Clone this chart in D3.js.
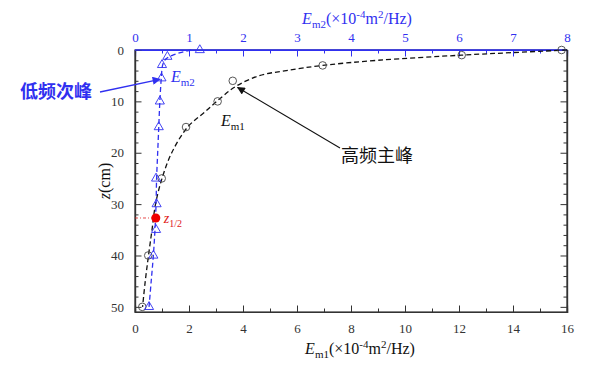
<!DOCTYPE html>
<html>
<head>
<meta charset="utf-8">
<script src="https://cdn.jsdelivr.net/npm/d3@7"></script>
<style>
  body { margin: 0; background: #fff; }
  svg text { font-family: "Liberation Serif", "DejaVu Serif", serif; }
</style>
</head>
<body>
<div id="chart"></div>
<script>
// measured points, Em1 (bottom axis) and Em2 (top axis)
const zE1 = [0, 1, 3, 6, 10, 15, 25, 40, 50];
const valE1 = [15.8, 12.1, 6.95, 3.62, 3.06, 1.89, 0.99, 0.49, 0.27];
const zE2 = [0, 1.3, 2.9, 5.5, 10, 15, 25, 30, 35, 40, 50];
const valE2 = [1.2, 0.6, 0.5, 0.49, 0.46, 0.44, 0.39, 0.40, 0.39, 0.34, 0.26];

// fitted dashed curves
const fitZ1 = [0, 0.5, 1, 2, 3, 4, 5, 7, 9, 12, 15, 20, 25, 30, 35, 40, 45, 50];
const fitE1 = [16, 14, 12.1, 9.0, 6.95, 5.6, 4.6, 3.76, 3.25, 2.6, 1.95, 1.36, 1.0, 0.76, 0.63, 0.5, 0.38, 0.28];
const fitZ2 = [0, 0.5, 1, 1.5, 2, 3, 5, 10, 15, 20, 25, 30, 35, 40, 45, 50];
const fitE2 = [1.04, 0.84, 0.7, 0.6, 0.55, 0.51, 0.49, 0.46, 0.44, 0.42, 0.40, 0.39, 0.37, 0.34, 0.30, 0.26];

// half-depth point
const zHalf = 32.7, eHalf = 0.77;

const xTicks1 = [0, 2, 4, 6, 8, 10, 12, 14, 16];
const xTicks2 = [0, 1, 2, 3, 4, 5, 6, 7, 8];
const zTicks = [0, 10, 20, 30, 40, 50];

const blue = "#3030f0";
const dark = "#333";
const serif = "Liberation Serif, DejaVu Serif, serif";

const W = 600, H = 365;
const pL = 135, pR = 567, pT = 50, pB = 312;

const svg = d3.select("#chart").append("svg")
  .attr("width", W).attr("height", H);

const x1 = d3.scaleLinear().domain([0, 16]).range([pL, pR]);
const x2 = d3.scaleLinear().domain([0, 8]).range([pL, pR]);
const y = d3.scaleLinear().domain([0, 51]).range([pT, pB]);

// arrow markers
const defs = svg.append("defs");
[["arrBlack", "#111"], ["arrBlue", blue]].forEach(([id, c]) => {
  defs.append("marker").attr("id", id)
    .attr("viewBox", "0 0 10 10").attr("refX", 9).attr("refY", 5)
    .attr("markerWidth", 10).attr("markerHeight", 8)
    .attr("markerUnits", "userSpaceOnUse")
    .attr("orient", "auto")
    .append("path").attr("d", "M0,0 L10,5 L0,10 z").attr("fill", c);
});

// frame
svg.append("rect").attr("x", pL).attr("y", pT)
  .attr("width", pR - pL).attr("height", pB - pT)
  .attr("fill", "none").attr("stroke", dark).attr("stroke-width", 1.2);

// axes
function styleAxis(g, color) {
  g.attr("font-family", serif).attr("font-size", 13);
  g.select(".domain").attr("stroke", color).attr("stroke-width", 1.2);
  g.selectAll(".tick line").attr("stroke", color);
  g.selectAll(".tick text").attr("fill", color);
}

const minor1 = d3.range(0, 16.01, 1).filter(v => v % 2 !== 0);
svg.append("g").attr("transform", `translate(0,${pB})`)
  .call(d3.axisBottom(x1).tickValues(minor1).tickSize(-3.5).tickFormat(""))
  .call(g => styleAxis(g, dark));
svg.append("g").attr("transform", `translate(0,${pB})`)
  .call(d3.axisBottom(x1).tickValues(xTicks1).tickSize(-6.5).tickPadding(12).tickFormat(d3.format("d")))
  .call(g => styleAxis(g, dark));

const minor2 = d3.range(0.5, 8, 1);
svg.append("g").attr("transform", `translate(0,${pT})`)
  .call(d3.axisTop(x2).tickValues(minor2).tickSize(-3.5).tickFormat(""))
  .call(g => styleAxis(g, blue));
svg.append("g").attr("transform", `translate(0,${pT})`)
  .call(d3.axisTop(x2).tickValues(xTicks2).tickSize(-6.5).tickPadding(8).tickFormat(d3.format("d")))
  .call(g => styleAxis(g, blue));

const minorZ = d3.range(0, 51, 2).filter(v => v % 10 !== 0);
svg.append("g").attr("transform", `translate(${pL},0)`)
  .call(d3.axisLeft(y).tickValues(minorZ).tickSize(-3.5).tickFormat(""))
  .call(g => styleAxis(g, dark));
svg.append("g").attr("transform", `translate(${pL},0)`)
  .call(d3.axisLeft(y).tickValues(zTicks).tickSize(-6.5).tickPadding(11))
  .call(g => styleAxis(g, dark));
svg.append("g").attr("transform", `translate(${pR},0)`)
  .call(d3.axisRight(y).tickValues(minorZ).tickSize(-3.5).tickFormat(""))
  .call(g => styleAxis(g, dark));
svg.append("g").attr("transform", `translate(${pR},0)`)
  .call(d3.axisRight(y).tickValues(zTicks).tickSize(-6.5).tickFormat(""))
  .call(g => styleAxis(g, dark));
// top line drawn blue over the frame
svg.append("line").attr("x1", pL).attr("x2", pR).attr("y1", pT).attr("y2", pT)
  .attr("stroke", blue).attr("stroke-width", 1.4);

// fitted curves
const fit1 = fitZ1.map((z, i) => [x1(fitE1[i]), y(z)]);
const fit2 = fitZ2.map((z, i) => [x2(fitE2[i]), y(z)]);
const line = d3.line().curve(d3.curveCatmullRom);
svg.append("path").attr("d", line(fit1)).attr("fill", "none")
  .attr("stroke", "#111").attr("stroke-width", 1.3).attr("stroke-dasharray", "5,3");
svg.append("path").attr("d", line(fit2)).attr("fill", "none")
  .attr("stroke", blue).attr("stroke-width", 1.3).attr("stroke-dasharray", "5,3");

// markers
svg.selectAll(".c1").data(zE1).enter().append("circle")
  .attr("cx", (z, i) => x1(valE1[i])).attr("cy", z => y(z)).attr("r", 3.8)
  .attr("fill", "none").attr("stroke", "#444").attr("stroke-width", 0.9);
const tri = d3.symbol().type(d3.symbolTriangle).size(36);
svg.selectAll(".t2").data(zE2).enter().append("path")
  .attr("d", tri)
  .attr("transform", (z, i) => `translate(${x2(valE2[i])},${y(z)})`)
  .attr("fill", "none").attr("stroke", blue).attr("stroke-width", 0.9);

// half depth
svg.append("line").attr("x1", pL).attr("x2", x1(eHalf)).attr("y1", y(zHalf)).attr("y2", y(zHalf))
  .attr("stroke", "#e02020").attr("stroke-width", 0.8).attr("stroke-dasharray", "3,2,1,2");
svg.append("circle").attr("cx", x1(eHalf)).attr("cy", y(zHalf)).attr("r", 4.5).attr("fill", "#f00000");
const zt = svg.append("text").attr("x", x1(eHalf) + 8).attr("y", y(zHalf) + 5)
  .attr("fill", "#e02020").style("font-size", "14px");
zt.append("tspan").style("font-style", "italic").text("z");
zt.append("tspan").attr("dy", 4).style("font-size", "10px").text("1/2");

// series labels
const lab2 = svg.append("text").attr("x", 171).attr("y", 82).attr("fill", blue).style("font-size", "16px");
lab2.append("tspan").style("font-style", "italic").text("E");
lab2.append("tspan").attr("dy", 4).style("font-size", "11px").text("m2");
const lab1 = svg.append("text").attr("x", 221).attr("y", 126).attr("fill", "#111").style("font-size", "16px");
lab1.append("tspan").style("font-style", "italic").text("E");
lab1.append("tspan").attr("dy", 4).style("font-size", "11px").text("m1");

// annotations
svg.append("line").attr("x1", 100).attr("y1", 92).attr("x2", x2(0.46)).attr("y2", y(5.7))
  .attr("stroke", blue).attr("stroke-width", 1.3).attr("marker-end", "url(#arrBlue)");
svg.append("text").attr("x", 20).attr("y", 98).attr("fill", blue)
  .style("font-family", "Noto Sans CJK SC").style("font-size", "18px").style("font-weight", "bold")
  .text("低频次峰");
svg.append("line").attr("x1", 340).attr("y1", 148).attr("x2", x1(3.8)).attr("y2", y(7.3))
  .attr("stroke", "#111").attr("stroke-width", 1.1).attr("marker-end", "url(#arrBlack)");
svg.append("text").attr("x", 341).attr("y", 162).attr("fill", "#111")
  .style("font-family", "Noto Sans CJK SC").style("font-size", "18px")
  .text("高频主峰");

// axis titles
function unitTitle(xc, yb, color, sub) {
  const t = svg.append("text").attr("x", xc).attr("y", yb).attr("fill", color)
    .attr("text-anchor", "middle").style("font-size", "16px");
  t.append("tspan").style("font-style", "italic").text("E");
  t.append("tspan").attr("dy", 4).style("font-size", "11px").text(sub);
  t.append("tspan").attr("dy", -4).text("(×10");
  t.append("tspan").attr("dy", -6).style("font-size", "11px").text("-4");
  t.append("tspan").attr("dy", 6).text("m");
  t.append("tspan").attr("dy", -6).style("font-size", "11px").text("2");
  t.append("tspan").attr("dy", 6).text("/Hz)");
}
unitTitle(357, 24, blue, "m2");
unitTitle(360, 354, "#111", "m1");

const zl = svg.append("text")
  .attr("transform", `translate(110,${(pT + pB) / 2}) rotate(-90)`)
  .attr("text-anchor", "middle").attr("fill", "#111").style("font-size", "16px");
zl.append("tspan").style("font-style", "italic").text("z");
zl.append("tspan").text("(cm)");
</script>
</body>
</html>
